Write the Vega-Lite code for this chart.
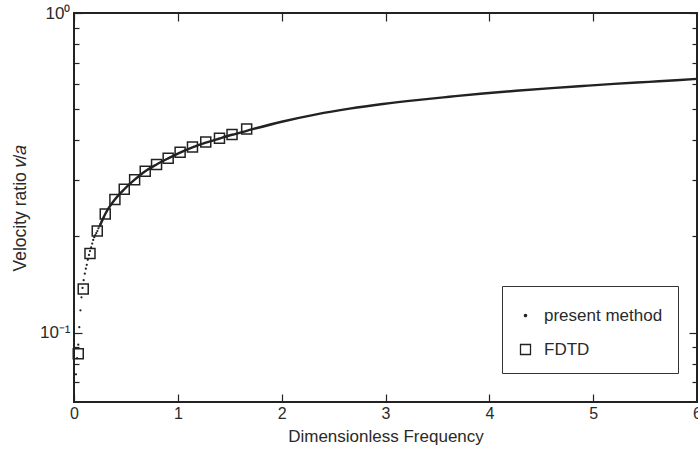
{
  "$schema": "https://vega.github.io/schema/vega-lite/v6.json",
  "width": 623,
  "height": 389,
  "autosize": {"type": "none"},
  "padding": {"left": 74, "top": 13, "right": 1, "bottom": 55},
  "background": "white",
  "config": {
    "view": {"stroke": "#222222", "strokeWidth": 2},
    "font": "Liberation Sans",
    "axis": {
      "domain": false,
      "grid": false,
      "tickColor": "#222222",
      "tickWidth": 1.2,
      "labelFont": "Liberation Sans",
      "labelFontSize": 16,
      "labelColor": "#2a2a2a",
      "titleFont": "Liberation Sans",
      "titleFontSize": 17,
      "titleFontWeight": "normal",
      "titleColor": "#2a2a2a"
    },
    "legend": {
      "labelFont": "Liberation Sans",
      "labelFontSize": 17,
      "labelColor": "#2a2a2a",
      "symbolStrokeColor": "#222222",
      "symbolStrokeWidth": 1.3,
      "symbolOpacity": 1
    }
  },
  "datasets": {
    "curve": [
      {"x": 0.25, "y": 0.216},
      {"x": 0.301, "y": 0.235},
      {"x": 0.394, "y": 0.261},
      {"x": 0.484, "y": 0.281},
      {"x": 0.584, "y": 0.301},
      {"x": 0.686, "y": 0.320},
      {"x": 0.795, "y": 0.336},
      {"x": 0.907, "y": 0.351},
      {"x": 1.022, "y": 0.366},
      {"x": 1.141, "y": 0.380},
      {"x": 1.269, "y": 0.393},
      {"x": 1.401, "y": 0.405},
      {"x": 1.522, "y": 0.416},
      {"x": 1.663, "y": 0.428},
      {"x": 2.0, "y": 0.457},
      {"x": 2.334, "y": 0.482},
      {"x": 2.654, "y": 0.502},
      {"x": 2.974, "y": 0.519},
      {"x": 3.3, "y": 0.534},
      {"x": 3.615, "y": 0.547},
      {"x": 3.94, "y": 0.560},
      {"x": 4.257, "y": 0.571},
      {"x": 4.6, "y": 0.582},
      {"x": 4.897, "y": 0.591},
      {"x": 5.2, "y": 0.600},
      {"x": 5.538, "y": 0.609},
      {"x": 5.8, "y": 0.616},
      {"x": 6.0, "y": 0.622}
    ],
    "dots": [
      {"series": "present method", "x": 0.019, "y": 0.0741},
      {"series": "present method", "x": 0.030, "y": 0.0832},
      {"series": "present method", "x": 0.041, "y": 0.0917},
      {"series": "present method", "x": 0.051, "y": 0.104},
      {"series": "present method", "x": 0.062, "y": 0.1175},
      {"series": "present method", "x": 0.072, "y": 0.129},
      {"series": "present method", "x": 0.082, "y": 0.138},
      {"series": "present method", "x": 0.093, "y": 0.146},
      {"series": "present method", "x": 0.104, "y": 0.153},
      {"series": "present method", "x": 0.114, "y": 0.1586},
      {"series": "present method", "x": 0.123, "y": 0.163},
      {"series": "present method", "x": 0.133, "y": 0.169},
      {"series": "present method", "x": 0.144, "y": 0.175},
      {"series": "present method", "x": 0.154, "y": 0.180},
      {"series": "present method", "x": 0.165, "y": 0.185},
      {"series": "present method", "x": 0.175, "y": 0.190},
      {"series": "present method", "x": 0.185, "y": 0.195},
      {"series": "present method", "x": 0.195, "y": 0.199},
      {"series": "present method", "x": 0.205, "y": 0.202},
      {"series": "present method", "x": 0.215, "y": 0.205},
      {"series": "present method", "x": 0.225, "y": 0.208},
      {"series": "present method", "x": 0.235, "y": 0.212},
      {"series": "present method", "x": 0.245, "y": 0.215},
      {"series": "present method", "x": 0.255, "y": 0.219},
      {"series": "present method", "x": 0.265, "y": 0.223},
      {"series": "present method", "x": 0.275, "y": 0.226},
      {"series": "present method", "x": 0.285, "y": 0.229}
    ],
    "fdtd": [
      {"series": "FDTD", "x": 0.041, "y": 0.086},
      {"series": "FDTD", "x": 0.089, "y": 0.137},
      {"series": "FDTD", "x": 0.154, "y": 0.177},
      {"series": "FDTD", "x": 0.224, "y": 0.208},
      {"series": "FDTD", "x": 0.301, "y": 0.235},
      {"series": "FDTD", "x": 0.394, "y": 0.261},
      {"series": "FDTD", "x": 0.484, "y": 0.281},
      {"series": "FDTD", "x": 0.584, "y": 0.301},
      {"series": "FDTD", "x": 0.686, "y": 0.320},
      {"series": "FDTD", "x": 0.795, "y": 0.336},
      {"series": "FDTD", "x": 0.907, "y": 0.351},
      {"series": "FDTD", "x": 1.022, "y": 0.367},
      {"series": "FDTD", "x": 1.141, "y": 0.381},
      {"series": "FDTD", "x": 1.269, "y": 0.395},
      {"series": "FDTD", "x": 1.401, "y": 0.406},
      {"series": "FDTD", "x": 1.522, "y": 0.417},
      {"series": "FDTD", "x": 1.663, "y": 0.434}
    ]
  },
  "layer": [
    {
      "data": {"name": "curve"},
      "mark": {"type": "line", "color": "#222222", "strokeWidth": 2.4, "interpolate": "monotone"},
      "encoding": {
        "x": {
          "field": "x", "type": "quantitative",
          "scale": {"domain": [0, 6], "nice": false, "zero": false},
          "axis": {
            "orient": "bottom",
            "values": [0, 1, 2, 3, 4, 5, 6],
            "tickSize": -8,
            "labelPadding": 11,
            "labelFlush": false,
            "title": "Dimensionless Frequency",
            "titlePadding": 7
          }
        },
        "y": {
          "field": "y", "type": "quantitative",
          "scale": {"type": "log", "domain": [0.0607, 1], "nice": false},
          "axis": {
            "orient": "left",
            "values": [0.07, 0.08, 0.09, 0.1, 0.2, 0.3, 0.4, 0.5, 0.6, 0.7, 0.8, 0.9, 1],
            "tickSize": {"condition": {"test": "datum.value === 1 || datum.value === 0.1", "value": -8}, "value": -5},
            "labelExpr": "datum.value === 1 ? '10⁰' : (datum.value === 0.1 ? '10⁻¹' : '')",
            "labelOverlap": false,
            "labelFontSize": 17,
            "labelPadding": 12,
            "title": "Velocity ratio 𝑣/𝑎",
            "titleFontSize": 17.5,
            "titlePadding": 10
          }
        }
      }
    },
    {
      "data": {"name": "fdtd"},
      "mark": {"type": "point", "filled": false, "strokeWidth": 1.5, "opacity": 1},
      "encoding": {
        "x": {
          "field": "x", "type": "quantitative",
          "axis": {"orient": "top", "values": [0, 1, 2, 3, 4, 5, 6], "tickSize": -8, "labels": false, "title": null}
        },
        "y": {
          "field": "y", "type": "quantitative",
          "axis": {
            "orient": "right",
            "values": [0.07, 0.08, 0.09, 0.1, 0.2, 0.3, 0.4, 0.5, 0.6, 0.7, 0.8, 0.9, 1],
            "tickSize": {"condition": {"test": "datum.value === 1 || datum.value === 0.1", "value": -8}, "value": -5},
            "labels": false, "title": null
          }
        },
        "shape": {
          "field": "series", "type": "nominal",
          "scale": {"domain": ["present method", "FDTD"], "range": ["circle", "square"]},
          "legend": {
            "title": " ",
            "titleFontSize": 3,
            "titlePadding": 3,
            "orient": "none",
            "legendX": 428,
            "legendY": 273,
            "padding": 15,
            "rowPadding": 16,
            "labelOffset": 10,
            "strokeColor": "#333333",
            "fillColor": "white"
          }
        },
        "fill": {
          "field": "series", "type": "nominal",
          "scale": {"domain": ["present method", "FDTD"], "range": ["#222222", "transparent"]}
        },
        "stroke": {
          "field": "series", "type": "nominal",
          "scale": {"domain": ["present method", "FDTD"], "range": ["#222222", "#222222"]}
        },
        "size": {
          "field": "series", "type": "nominal",
          "scale": {"domain": ["present method", "FDTD"], "range": [5, 100]}
        }
      }
    },
    {
      "data": {"name": "dots"},
      "mark": {"type": "point", "filled": true, "strokeWidth": 0, "opacity": 1},
      "encoding": {
        "x": {"field": "x", "type": "quantitative", "axis": null},
        "y": {"field": "y", "type": "quantitative", "axis": null},
        "shape": {"field": "series", "type": "nominal"},
        "fill": {"field": "series", "type": "nominal"},
        "stroke": {"field": "series", "type": "nominal"},
        "size": {"field": "series", "type": "nominal"}
      }
    }
  ],
  "resolve": {"axis": {"x": "independent", "y": "independent"}}
}
